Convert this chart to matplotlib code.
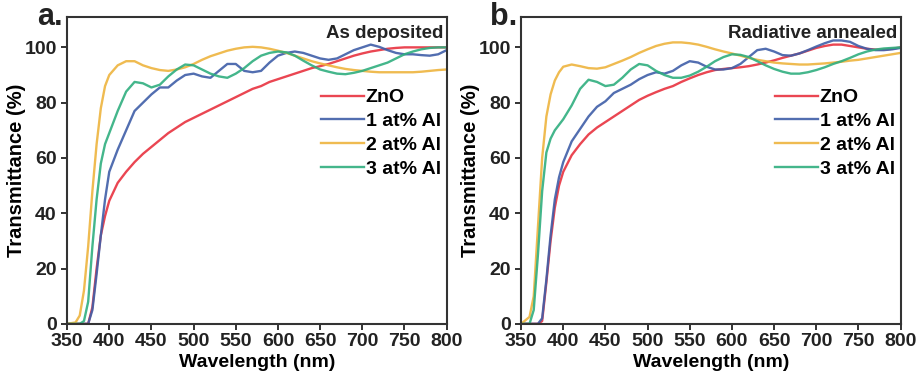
import numpy as np
import matplotlib.pyplot as plt

plt.rcParams['font.family'] = ['Liberation Sans', 'DejaVu Sans']
plt.rcParams['font.weight'] = 'bold'

# Wavelength grid (nm) shared by every curve
wavelength = [350, 360, 365, 370, 375, 380, 385, 390, 395, 400,
              410, 420, 430, 440, 450, 460, 470, 480, 490, 500,
              510, 520, 530, 540, 550, 560, 570, 580, 590, 600,
              610, 620, 630, 640, 650, 660, 670, 680, 690, 700,
              710, 720, 730, 740, 750, 760, 770, 780, 790, 800]

labels = ['ZnO', '1 at% Al', '2 at% Al', '3 at% Al']
colors = ['#e8323f', '#3f5ea8', '#eeb43e', '#2fae7f']

# (a) As deposited
dep_zno = [0, 0, 0, 0, 0, 6, 20, 32, 39, 44.5,
           51, 55, 58.5, 61.5, 64, 66.5, 69, 71, 73, 74.5,
           76, 77.5, 79, 80.5, 82, 83.5, 85, 86, 87.5, 88.5,
           89.5, 90.5, 91.5, 92.5, 93.2, 94, 95, 96, 97, 97.8,
           98.5, 99, 99.5, 99.8, 100, 100, 100, 100, 100, 100]
dep_al1 = [0, 0, 0, 0, 0, 5, 18, 32, 45, 55,
           63, 70, 77, 80, 83, 85.5, 85.5, 88, 90, 90.5,
           89.5, 89, 91.5, 94, 94, 91.5, 91, 91.5, 94.5, 97,
           98, 98.5, 98, 97, 96, 95.5, 96, 97.5, 99, 100,
           101, 100.2, 99, 98, 97.5, 97.5, 97.2, 97, 97.5, 99]
dep_al2 = [0, 0.5, 3, 12, 28, 48, 65, 78, 86, 90,
           93.5, 95, 95, 93.5, 92.5, 91.8, 91.5, 92, 92.8, 94,
           95.5, 96.8, 97.8, 98.8, 99.5, 100, 100.2, 100, 99.5, 98.8,
           98, 97, 96, 95, 94.2, 93.5, 92.8, 92.2, 91.8, 91.5,
           91.2, 91, 91, 91, 91, 91, 91.2, 91.5, 91.8, 92]
dep_al3 = [0, 0, 0, 1, 8, 28, 45, 58, 65, 69,
           77, 84, 87.5, 87, 85.5, 86.5, 89.5, 92, 93.8, 93.5,
           92, 90.5, 89.5, 89, 90.5, 92.5, 95, 97, 98, 98.5,
           98.2, 97, 95.2, 93.5, 92, 91.2, 90.5, 90.3, 90.8, 91.5,
           92.5, 93.5, 94.5, 96, 97.5, 98.5, 99.3, 99.8, 100, 100]

# (b) Radiative annealed
ann_zno = [0, 0, 0, 0, 1, 15, 30, 42, 50, 55,
           61, 65, 68.5, 71, 73, 75, 77, 79, 81, 82.5,
           83.8, 85, 86, 87.5, 88.8, 90, 91, 91.8, 92.2, 92.5,
           92.8, 93.2, 93.8, 94.5, 95.3, 96.2, 97, 97.8, 98.8, 99.8,
           100.5, 101, 101, 100.5, 100, 99.5, 99.2, 99.2, 99.5, 100]
ann_al1 = [0, 0, 0, 0, 2, 16, 32, 45, 53, 58.5,
           66, 70.5, 75, 78.5, 80.5, 83.5, 85, 86.5, 88.5, 90,
           91, 90.5, 91.5, 93.5, 95, 94.5, 93, 92, 92, 92.5,
           94, 96.5, 99, 99.5, 98.5, 97.2, 97, 97.8, 99, 100.3,
           101.5, 102.5, 102.5, 102, 100.5, 99.5, 99, 99, 99.3, 99.8]
ann_al2 = [0, 2.5, 10, 35, 60, 75, 83, 88, 91, 93,
           93.8, 93.2, 92.5, 92.3, 92.8, 94, 95.2, 96.5, 98, 99.3,
           100.5, 101.3, 101.8, 101.8, 101.5, 101, 100.2, 99.3, 98.5, 97.8,
           97, 96.2, 95.5, 95, 94.5, 94.2, 94, 93.8, 93.8, 94,
           94.2, 94.5, 94.8, 95.2, 95.5, 96, 96.5, 97, 97.5, 98]
ann_al3 = [0, 0, 5, 25, 48, 62, 67, 70, 72, 74,
           79, 85, 88.3, 87.5, 86, 86.5, 89, 92, 94, 93.5,
           91.5, 90, 89, 89, 89.8, 91.2, 93, 95, 96.5, 97.5,
           97.3, 96.5, 95, 93.5, 92.2, 91.2, 90.5, 90.5, 91, 91.8,
           92.8, 94, 95, 96.2, 97.5, 98.5, 99.2, 99.6, 99.8, 100]

panels = [
    ('a.', 'As deposited', [dep_zno, dep_al1, dep_al2, dep_al3], 0.073),
    ('b.', 'Radiative annealed', [ann_zno, ann_al1, ann_al2, ann_al3], 0.567),
]

fig = plt.figure(figsize=(9.19, 3.77), dpi=100)

for tag, note, series, left in panels:
    ax = fig.add_axes([left, 0.141, 0.413, 0.814])
    for vals, lab, col in zip(series, labels, colors):
        ax.plot(wavelength, vals, color=col, lw=1.7, label=lab, alpha=0.9)

    ax.set_xlim(350, 800)
    ax.set_ylim(0, 111)
    ax.set_xticks(np.arange(350, 801, 50))
    ax.set_yticks(np.arange(0, 101, 20))
    ax.tick_params(direction='out', length=4, width=1.3, labelsize=14,
                   colors='#222222')
    ax.tick_params(axis='x', pad=2.5)
    ax.tick_params(axis='y', pad=3.5)
    for sp in ax.spines.values():
        sp.set_linewidth(1.5)
        sp.set_color('#333333')

    ax.set_xlabel('Wavelength (nm)', fontsize=14, fontweight='bold', labelpad=3)
    ax.set_ylabel('Transmittance (%)', fontsize=14.5, fontweight='bold', labelpad=-1)

    ax.text(0.992, 0.975, note, transform=ax.transAxes, ha='right', va='top',
            fontsize=13.5, fontweight='bold', color='#222222')
    ax.text(-0.045, 1.0, tag, transform=ax.transAxes, ha='center', va='center',
            fontsize=22, fontweight='bold', color='#222222')

    ax.legend(loc='upper right', bbox_to_anchor=(1.0, 0.785), frameon=False,
              fontsize=14, handlelength=2.2, handletextpad=0.1,
              labelspacing=0.32, borderaxespad=0.2, borderpad=0.1)

fig.savefig('out.png', dpi=100)
